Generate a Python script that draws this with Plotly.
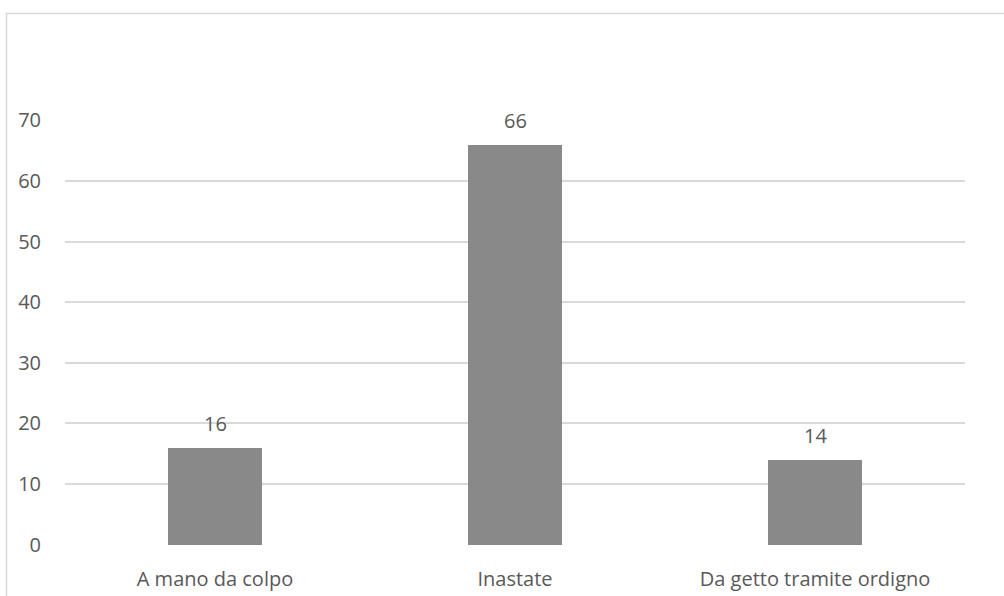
import plotly.graph_objects as go

categories = ["A mano da colpo", "Inastate", "Da getto tramite ordigno"]
values = [16, 66, 14]
y_ticks = [0, 10, 20, 30, 40, 50, 60, 70]

TEXT = "#595959"
GRID = "#d9d9d9"
BAR = "#898989"
FONT = "Open Sans"
FS = 20

W, H = 1004, 596
L, R, T, B = 65, 39, 120, 51
pw, ph = W - L - R, H - T - B
y_lo, y_hi = -0.06, 70.06  # tiny padding so the 0 and 70 gridlines are drawn

fig = go.Figure(
    go.Bar(
        x=categories,
        y=values,
        marker=dict(color=BAR, line=dict(width=0)),
        width=0.313,
        hoverinfo="skip",
    )
)

# value labels sitting above each bar
for c, v in zip(categories, values):
    fig.add_annotation(
        x=c, y=v, text=str(v), showarrow=False,
        yanchor="bottom", yshift=9,
        font=dict(family=FONT, size=FS, color=TEXT),
    )

# outer chart frame (right and bottom edges run past the page)
fig.add_shape(
    type="rect", xref="paper", yref="paper",
    x0=(6.5 - L) / pw, x1=(W + 10 - L) / pw,
    y0=-(H + 10 - T - ph) / ph, y1=1 + (T - 13.5) / ph,
    line=dict(color=GRID, width=1.5), fillcolor="rgba(0,0,0,0)",
    layer="below",
)

fig.update_layout(
    width=W, height=H,
    margin=dict(l=L, r=R, t=T, b=B, pad=0, autoexpand=False),
    paper_bgcolor="white", plot_bgcolor="white",
    showlegend=False,
    font=dict(family=FONT, size=FS, color=TEXT),
    bargap=0,
    xaxis=dict(
        showgrid=False, showline=False, zeroline=False,
        ticks="", ticklabelstandoff=20, automargin=False,
        tickfont=dict(family=FONT, size=FS, color=TEXT),
    ),
    yaxis=dict(
        range=[y_lo, y_hi], tickvals=y_ticks,
        showgrid=True, gridcolor=GRID, gridwidth=1.5,
        zeroline=False, showline=False, ticks="",
        ticklabelstandoff=23, automargin=False,
        tickfont=dict(family=FONT, size=FS, color=TEXT),
    ),
)

fig.write_html("out.html")
